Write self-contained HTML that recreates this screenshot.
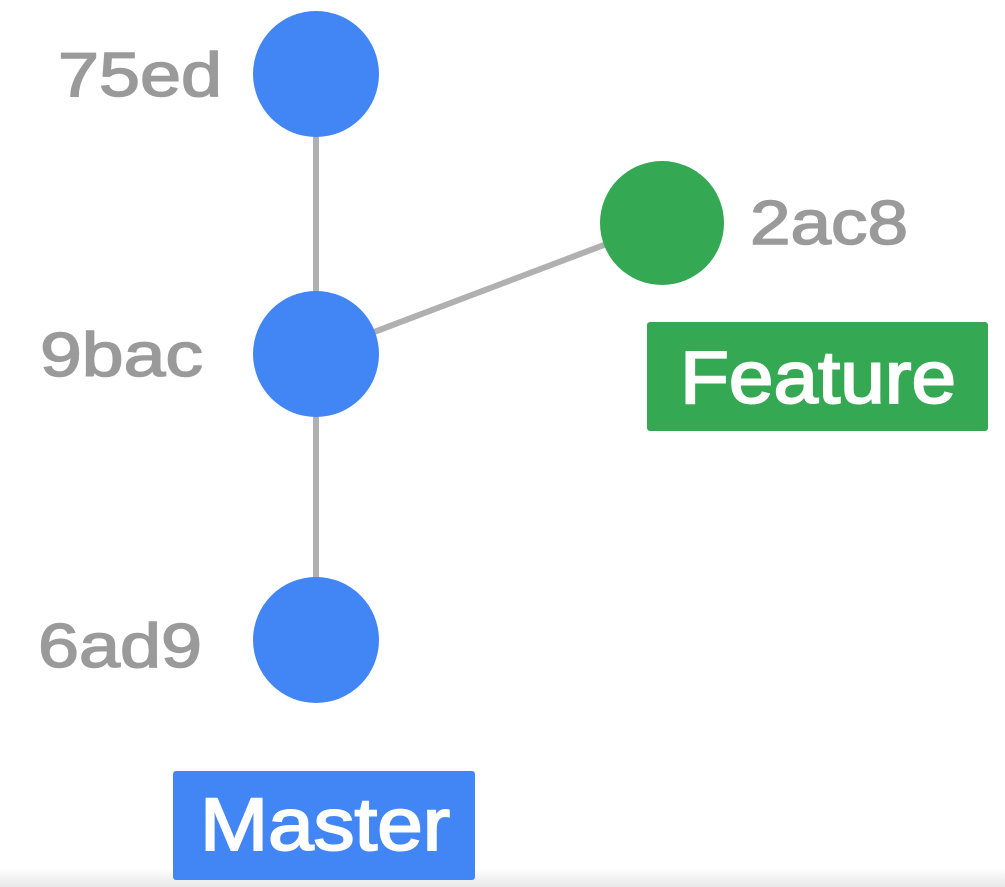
<!DOCTYPE html>
<html><head><style>html,body{margin:0;padding:0;background:#fff}svg{display:block}</style></head>
<body>
<svg width="1005" height="887" viewBox="0 0 1005 887" xmlns="http://www.w3.org/2000/svg">
<defs><linearGradient id="g" x1="0" y1="0" x2="0" y2="1"><stop offset="0" stop-color="#fff"/><stop offset="1" stop-color="#e8e8e8"/></linearGradient></defs>
<rect x="0" y="0" width="1005" height="887" fill="#fff"/>
<rect x="0" y="868" width="1005" height="19" fill="url(#g)"/>
<g stroke="#b0b0b0" stroke-width="6">
<line x1="316" y1="74" x2="316" y2="640"/>
<line x1="316" y1="354" x2="662" y2="223"/>
</g>
<circle cx="316" cy="74" r="63" fill="#4285f4"/>
<circle cx="316" cy="354" r="63" fill="#4285f4"/>
<circle cx="316" cy="640" r="63" fill="#4285f4"/>
<circle cx="662" cy="223" r="62" fill="#34a853"/>
<g font-family="Liberation Sans, sans-serif" fill="#9a9a9a" stroke="#9a9a9a" stroke-width="1.5" font-size="62">
<text x="58" y="96" textLength="164" lengthAdjust="spacingAndGlyphs">75ed</text>
<text x="40" y="376" textLength="163" lengthAdjust="spacingAndGlyphs">9bac</text>
<text x="750" y="244" textLength="158" lengthAdjust="spacingAndGlyphs">2ac8</text>
<text x="38" y="667" textLength="164" lengthAdjust="spacingAndGlyphs">6ad9</text>
</g>
<rect x="647" y="322" width="341" height="109" rx="3" fill="#34a853"/>
<rect x="173" y="771" width="302" height="109" rx="3" fill="#4285f4"/>
<g font-family="Liberation Sans, sans-serif" fill="#fff" stroke="#fff" stroke-width="2" font-size="74">
<text x="680" y="403" textLength="276" lengthAdjust="spacingAndGlyphs">Feature</text>
<text x="200" y="850" textLength="250" lengthAdjust="spacingAndGlyphs">Master</text>
</g>
</svg>
</body></html>
